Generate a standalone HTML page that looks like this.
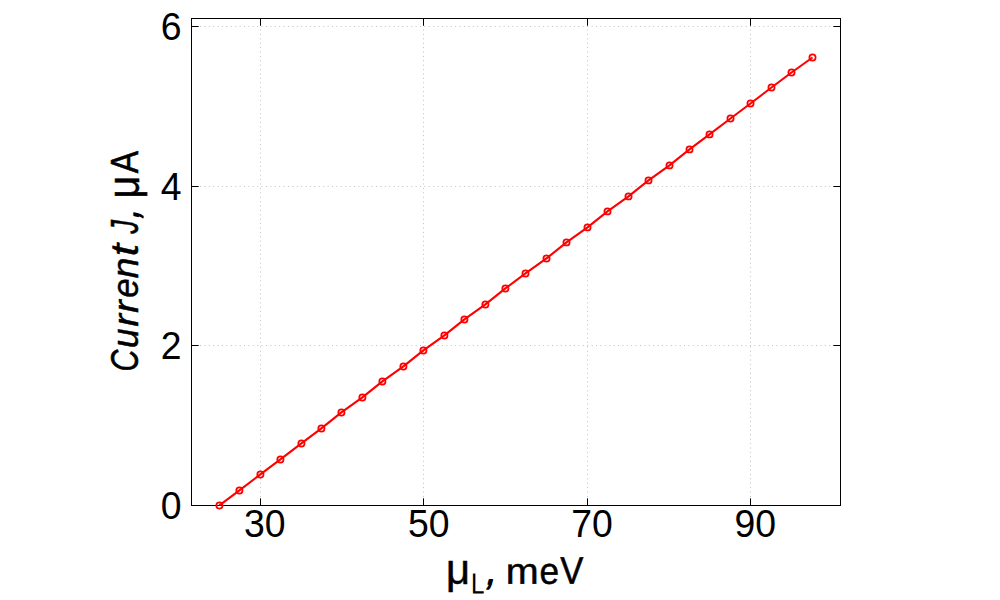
<!DOCTYPE html>
<html><head><meta charset="utf-8"><title>chart</title>
<style>
html,body{margin:0;padding:0;background:#fff;}
body{width:1000px;height:600px;overflow:hidden;font-family:"Liberation Sans",sans-serif;}
svg{display:block;}
text{font-family:"Liberation Sans",sans-serif;fill:#000;}
</style></head><body>
<svg width="1000" height="600" viewBox="0 0 1000 600">
<rect x="0" y="0" width="1000" height="600" fill="#fff"/>

<g stroke="#c0c0c0" stroke-width="1" stroke-dasharray="1 3.4" fill="none">
<line x1="260.5" y1="496.9" x2="260.5" y2="19.0"/>
<line x1="423.5" y1="496.9" x2="423.5" y2="19.0"/>
<line x1="587.5" y1="496.9" x2="587.5" y2="19.0"/>
<line x1="750.5" y1="496.9" x2="750.5" y2="19.0"/>
<line x1="200" y1="345.5" x2="840.0" y2="345.5"/>
<line x1="200" y1="186.5" x2="840.0" y2="186.5"/>
<line x1="200" y1="26.5" x2="840.0" y2="26.5"/>
</g>
<g stroke="#000" stroke-width="1" fill="none" stroke-linecap="butt">
<rect x="191.5" y="18.5" width="649.0" height="487.0"/>
<line x1="260.5" y1="505.5" x2="260.5" y2="498.3"/>
<line x1="260.5" y1="18.5" x2="260.5" y2="25.7"/>
<line x1="423.5" y1="505.5" x2="423.5" y2="498.3"/>
<line x1="423.5" y1="18.5" x2="423.5" y2="25.7"/>
<line x1="587.5" y1="505.5" x2="587.5" y2="498.3"/>
<line x1="587.5" y1="18.5" x2="587.5" y2="25.7"/>
<line x1="750.5" y1="505.5" x2="750.5" y2="498.3"/>
<line x1="750.5" y1="18.5" x2="750.5" y2="25.7"/>
<line x1="191.5" y1="505.5" x2="198.7" y2="505.5"/>
<line x1="840.5" y1="505.5" x2="833.3" y2="505.5"/>
<line x1="191.5" y1="345.5" x2="198.7" y2="345.5"/>
<line x1="840.5" y1="345.5" x2="833.3" y2="345.5"/>
<line x1="191.5" y1="186.5" x2="198.7" y2="186.5"/>
<line x1="840.5" y1="186.5" x2="833.3" y2="186.5"/>
<line x1="191.5" y1="26.5" x2="198.7" y2="26.5"/>
<line x1="840.5" y1="26.5" x2="833.3" y2="26.5"/>
</g>
<polyline fill="none" stroke="#ff0000" stroke-width="2.1" stroke-linejoin="round" points="219.4,505.4 239.4,490.4 260.4,474.4 280.4,459.4 301.4,443.4 321.4,428.4 341.4,412.4 362.4,397.4 382.4,381.4 403.4,366.4 423.4,350.4 444.4,335.4 464.4,319.4 485.4,304.4 505.4,288.4 525.5,273.4 546.5,258.4 566.5,242.4 587.5,227.4 607.5,211.4 628.5,196.4 648.5,180.4 669.5,165.4 689.5,149.4 709.5,134.4 730.5,118.5 750.5,103.5 771.5,87.5 791.5,72.5 812.5,57.5"/>
<g fill="none" stroke="#ff0000" stroke-width="1.75">
<circle cx="219.4" cy="505.4" r="3.1"/>
<circle cx="239.4" cy="490.4" r="3.1"/>
<circle cx="260.4" cy="474.4" r="3.1"/>
<circle cx="280.4" cy="459.4" r="3.1"/>
<circle cx="301.4" cy="443.4" r="3.1"/>
<circle cx="321.4" cy="428.4" r="3.1"/>
<circle cx="341.4" cy="412.4" r="3.1"/>
<circle cx="362.4" cy="397.4" r="3.1"/>
<circle cx="382.4" cy="381.4" r="3.1"/>
<circle cx="403.4" cy="366.4" r="3.1"/>
<circle cx="423.4" cy="350.4" r="3.1"/>
<circle cx="444.4" cy="335.4" r="3.1"/>
<circle cx="464.4" cy="319.4" r="3.1"/>
<circle cx="485.4" cy="304.4" r="3.1"/>
<circle cx="505.4" cy="288.4" r="3.1"/>
<circle cx="525.5" cy="273.4" r="3.1"/>
<circle cx="546.5" cy="258.4" r="3.1"/>
<circle cx="566.5" cy="242.4" r="3.1"/>
<circle cx="587.5" cy="227.4" r="3.1"/>
<circle cx="607.5" cy="211.4" r="3.1"/>
<circle cx="628.5" cy="196.4" r="3.1"/>
<circle cx="648.5" cy="180.4" r="3.1"/>
<circle cx="669.5" cy="165.4" r="3.1"/>
<circle cx="689.5" cy="149.4" r="3.1"/>
<circle cx="709.5" cy="134.4" r="3.1"/>
<circle cx="730.5" cy="118.5" r="3.1"/>
<circle cx="750.5" cy="103.5" r="3.1"/>
<circle cx="771.5" cy="87.5" r="3.1"/>
<circle cx="791.5" cy="72.5" r="3.1"/>
<circle cx="812.5" cy="57.5" r="3.1"/>
</g>
<g font-size="37.4">
<text transform="matrix(1 0.0002 -0.0002 1.021 264.80 537.3)" text-anchor="middle">30</text>
<text transform="matrix(1 0.0002 -0.0002 1.021 428.70 537.3)" text-anchor="middle">50</text>
<text transform="matrix(1 0.0002 -0.0002 1.021 592.10 537.3)" text-anchor="middle">70</text>
<text transform="matrix(1 0.0002 -0.0002 1.021 755.25 537.3)" text-anchor="middle">90</text>
<text transform="matrix(1 0.0002 -0.0002 1.021 181.5 519.10)" text-anchor="end">0</text>
<text transform="matrix(1 0.0002 -0.0002 1.021 181.5 359.10)" text-anchor="end">2</text>
<text transform="matrix(1 0.0002 -0.0002 1.021 181.5 200.10)" text-anchor="end">4</text>
<text transform="matrix(1 0.0002 -0.0002 1.021 181.5 40.10)" text-anchor="end">6</text>
</g>
<g>
<text transform="matrix(0.4179 0.0002 -0.0002 0.4318 445.98 584.11)" font-size="100" stroke="#000" stroke-width="1.18" stroke-linejoin="round">μ</text><text transform="matrix(0.2415 0.0002 -0.0002 0.2900 471.07 593.45)" font-size="100" stroke="#000" stroke-width="0.38" stroke-linejoin="round">L</text><text transform="matrix(0.3210 0.0002 -0.0960 0.3832 485.14 584.00)" font-size="100" stroke="#000" stroke-width="4.28" stroke-linejoin="round">,</text>
<text transform="matrix(0.3953 0.0002 -0.0002 0.3670 505.67 583.75)" font-size="100" stroke="#000" stroke-width="1.31" stroke-linejoin="round">m</text><text transform="matrix(0.3516 0.0002 -0.0002 0.3708 539.51 583.75)" font-size="100" stroke="#000" stroke-width="1.38" stroke-linejoin="round">e</text><text transform="matrix(0.3464 0.0002 -0.0002 0.3845 560.35 583.75)" font-size="100" stroke="#000" stroke-width="1.37" stroke-linejoin="round">V</text>
</g>
<g transform="translate(0,371) rotate(-90)">
<text transform="matrix(0.3034 0 -0.0000 0.3917 -0.47 137.75)" font-size="100" stroke="#000" stroke-width="1.45" stroke-linejoin="round" font-style="italic">C</text><text transform="matrix(0.3521 0 -0.0000 0.3663 22.92 137.75)" font-size="100" stroke="#000" stroke-width="1.39" stroke-linejoin="round" font-style="italic">u</text><text transform="matrix(0.3770 0 -0.0000 0.3596 44.47 137.75)" font-size="100" stroke="#000" stroke-width="1.36" stroke-linejoin="round" font-style="italic">r</text><text transform="matrix(0.3770 0 -0.0000 0.3596 58.27 137.75)" font-size="100" stroke="#000" stroke-width="1.36" stroke-linejoin="round" font-style="italic">r</text><text transform="matrix(0.3482 0 -0.0000 0.3689 73.33 137.75)" font-size="100" stroke="#000" stroke-width="1.40" stroke-linejoin="round" font-style="italic">e</text><text transform="matrix(0.3703 0 -0.0000 0.3692 92.69 137.75)" font-size="100" stroke="#000" stroke-width="1.35" stroke-linejoin="round" font-style="italic">n</text><text transform="matrix(0.4455 0 -0.0000 0.3844 114.68 137.75)" font-size="100" stroke="#000" stroke-width="1.21" stroke-linejoin="round" font-style="italic">t</text>
<text transform="matrix(0.2744 0 -0.0000 0.3874 137.17 137.75)" font-size="100" stroke="#000" stroke-width="1.53" stroke-linejoin="round" font-style="italic">J</text><text transform="matrix(0.2738 0 -0.0921 0.3683 151.97 138.04)" font-size="100" stroke="#000" stroke-width="4.72" stroke-linejoin="round">,</text>
<text transform="matrix(0.3938 0 -0.0000 0.4388 172.60 138.98)" font-size="100" stroke="#000" stroke-width="1.20" stroke-linejoin="round">μ</text><text transform="matrix(0.3340 0 -0.0000 0.3874 197.68 137.75)" font-size="100" stroke="#000" stroke-width="1.39" stroke-linejoin="round">A</text>
</g>
</svg></body></html>
